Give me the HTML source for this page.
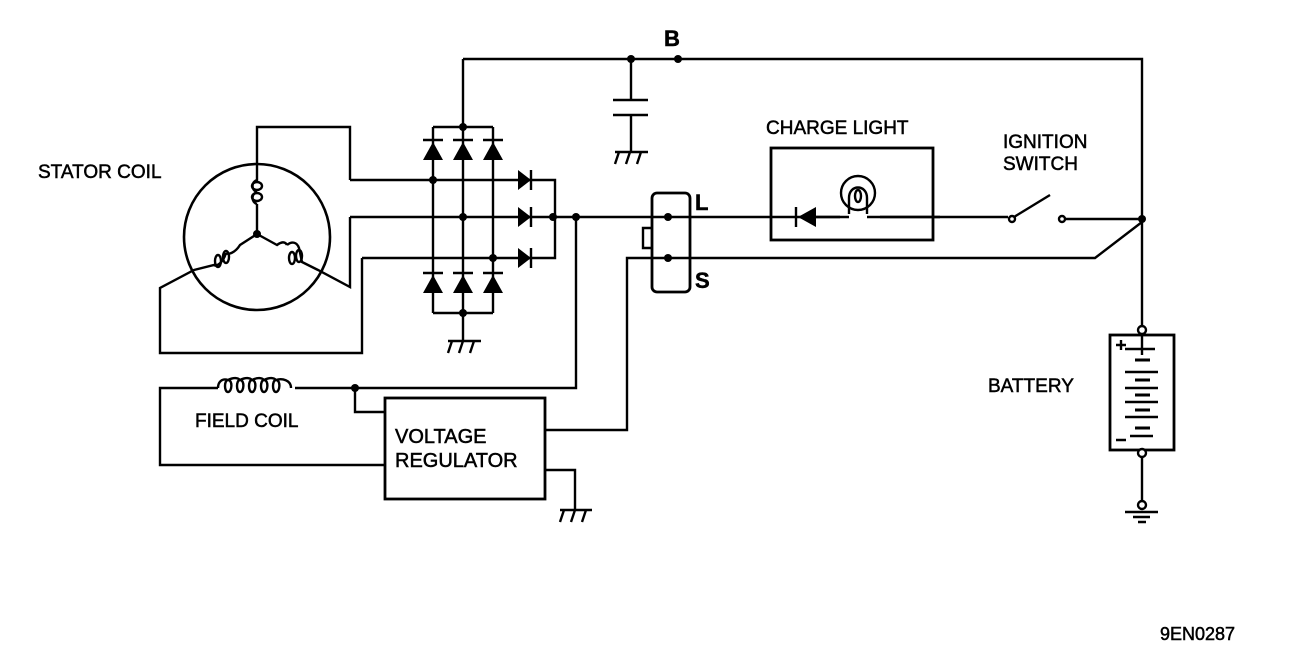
<!DOCTYPE html>
<html><head><meta charset="utf-8"><style>
body{margin:0;background:#fff}
svg text{font-family:"Liberation Sans",Arial,sans-serif;fill:#000;stroke:#000;stroke-width:0.5}
</style></head><body>
<svg width="1312" height="654" viewBox="0 0 1312 654" xmlns="http://www.w3.org/2000/svg">
<g stroke="#000" stroke-width="2.4" fill="none">
<!-- stator -->
<circle cx="257" cy="237" r="73" stroke-width="2.6"/>
<path d="M257,165 V127 H350 V180"/>
<path d="M257,165 V180 c-6,2 -6,10 0,12 M257,192 c-6,2 -6,10 0,12 M257,204 V234"/>
<ellipse cx="257" cy="186" rx="5" ry="4"/><ellipse cx="257" cy="197" rx="5" ry="4"/>
<path d="M257,234 L240,245 c-5,8 -12,10 -14,8 M226,253 c-3,10 -10,14 -12,12 L194,270 L160,288 V353 H362 V258"/>
<ellipse cx="226" cy="257" rx="3" ry="6"/><ellipse cx="218" cy="261" rx="3" ry="6"/>
<path d="M257,234 L277,245 c4,-3 8,-4 10,0 M287,245 c5,-4 10,-3 12,3 L302,262 L318,270 L350,287 V217"/>
<ellipse cx="292" cy="258" rx="3" ry="6"/><ellipse cx="299" cy="256" rx="3" ry="6"/>
<!-- AC lines -->
<path d="M350,180 H555 V258 H362"/>
<path d="M350,217 H668"/>
<!-- rectifier -->
<path d="M433,127 H493 M433,127 V313 M463,59 V313 M493,127 V313 M433,313 H493 M463,313 V340"/>
<path d="M423,140 H443 M453,140 H473 M483,140 H503 M423,273 H443 M453,273 H473 M483,273 H503"/>
<path d="M531,170 V190 M531,207 V227 M531,248 V268"/>
<!-- B line -->
<path d="M463,59 H1142 V330"/>
<path d="M631,59 V100 M613,100 H648 M613,115 H648 M631,115 V152"/>
<!-- ground symbols -->
<path d="M448,341 H481 M452,341 l-4,12 M463,341 l-4,12 M474,341 l-4,12"/>
<path d="M615,152 H648 M619,152 l-4,12 M630,152 l-4,12 M641,152 l-4,12"/>
<path d="M560,510 H592 M564,510 l-4,12 M575,510 l-4,12 M586,510 l-4,12"/>
<!-- field circuit -->
<path d="M576,217 V388 H295 M218,388 H160 V465 H385 M355,388 V412 H385"/>
<path d="M218,388 c0,-6 4,-10 10,-8 M228,380 c-4,0 -4,12 0,12 c4,0 5,-12 0,-12 c6,-3 10,-2 12,0 c-4,0 -4,12 0,12 c4,0 5,-12 0,-12 c6,-3 10,-2 12,0 c-4,0 -4,12 0,12 c4,0 5,-12 0,-12 c6,-3 10,-2 12,0 c-4,0 -4,12 0,12 c4,0 5,-12 0,-12 c6,-3 10,-2 12,0 c-4,0 -4,12 0,12 c4,0 5,-12 0,-12 c6,-2 15,0 15,8"/>
<rect x="385" y="398" width="160" height="101" stroke-width="2.8"/>
<path d="M545,430 H627 V258 H1095 L1142,222 M545,470 H575 V510"/>
<!-- L/S connector -->
<rect x="652" y="193" width="38" height="99" rx="5" stroke-width="2.8"/>
<path d="M652,228 H643 V248 H652"/>
<!-- charge light -->
<path d="M668,217 H1008"/>
<rect x="771" y="148" width="162" height="92" stroke-width="2.8"/>
<path d="M796,207 V227"/>
<circle cx="858" cy="193" r="17"/>
<path d="M849,217 V198 c0,-14 18,-14 18,0 V217"/>
<ellipse cx="858" cy="196" rx="3" ry="6"/>
<rect x="840" y="214" width="40" height="6" fill="#fff" stroke="none"/>
<path d="M815,217 H849 M867,217 H940"/>
<!-- switch -->
<circle cx="1012" cy="219" r="3" fill="#fff"/>
<path d="M1014,217 L1050,195"/>
<circle cx="1062" cy="219" r="3" fill="#fff"/>
<path d="M1065,219 H1142"/>
<!-- battery -->
<rect x="1110" y="335" width="64" height="115" stroke-width="2.8"/>
<path d="M1142,330 V355 M1142,448 V505"/>
<circle cx="1142" cy="330" r="4" fill="#fff"/>
<circle cx="1142" cy="453" r="4" fill="#fff"/>
<circle cx="1142" cy="505" r="4" fill="#fff"/>
<path d="M1125,512 H1158 M1133,517 H1150 M1138,522 H1146"/>
<path d="M1125,349 H1155 M1125,372 H1158 M1125,388 H1158 M1125,402 H1158 M1125,417 H1158 M1130,436 H1153" stroke-width="2.5"/>
<path d="M1135,360 H1150 M1135,380 H1150 M1135,395 H1150 M1135,410 H1150 M1135,428 H1150" stroke-width="3"/>
<path d="M1116,345 H1126 M1121,340 V350 M1116,440 H1126"/>
</g>
<g fill="#000">
<polygon points="423,160 443,160 433,142"/><polygon points="453,160 473,160 463,142"/><polygon points="483,160 503,160 493,142"/>
<polygon points="423,293 443,293 433,275"/><polygon points="453,293 473,293 463,275"/><polygon points="483,293 503,293 493,275"/>
<polygon points="518,170 518,190 531,180"/><polygon points="518,207 518,227 531,217"/><polygon points="518,248 518,268 531,258"/>
<polygon points="816,207 816,227 798,217"/>
<circle cx="257" cy="234" r="4"/>
<circle cx="463" cy="127" r="4"/><circle cx="433" cy="180" r="4"/><circle cx="463" cy="217" r="4"/><circle cx="493" cy="258" r="4"/><circle cx="463" cy="313" r="4"/>
<circle cx="553" cy="217" r="4"/><circle cx="576" cy="217" r="4"/>
<circle cx="631" cy="59" r="4"/><circle cx="678" cy="59" r="4"/>
<circle cx="668" cy="217" r="4"/><circle cx="668" cy="258" r="4"/>
<circle cx="1142" cy="219" r="4"/><circle cx="355" cy="388" r="4"/>
</g>
<g font-size="19">
<text x="38" y="178">STATOR COIL</text>
<text x="766" y="134">CHARGE LIGHT</text>
<text x="1003" y="148">IGNITION</text>
<text x="1003" y="170">SWITCH</text>
<text x="988" y="392">BATTERY</text>
<text x="195" y="427">FIELD COIL</text>
<text x="395" y="443" font-size="20">VOLTAGE</text>
<text x="395" y="467" font-size="20">REGULATOR</text>
<text x="1160" y="640" font-size="18">9EN0287</text>
<text x="664" y="46" font-size="22" font-weight="bold">B</text>
<text x="695" y="210" font-size="22" font-weight="bold">L</text>
<text x="695" y="288" font-size="22" font-weight="bold">S</text>
</g>
</svg>
</body></html>
